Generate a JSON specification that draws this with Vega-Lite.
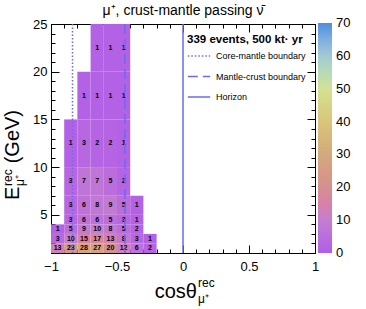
{
  "$schema": "https://vega.github.io/schema/vega-lite/v6.json",
  "width": 264,
  "height": 229,
  "autosize": {"type": "none"},
  "padding": {"left": 51, "top": 24, "right": 51, "bottom": 56},
  "background": "white",
  "config": {
    "font": "Liberation Sans",
    "view": {"stroke": "black", "strokeWidth": 1},
    "axis": {"domainColor": "black", "tickColor": "black", "labelColor": "black", "labelFont": "Liberation Sans", "grid": false, "domainWidth": 1, "tickWidth": 1}
  },
  "title": {"text": "μ⁺, crust-mantle passing ν̄", "fontSize": 14, "fontWeight": "normal", "font": "Liberation Sans", "color": "black", "anchor": "middle", "frame": "group", "offset": 0},
  "datasets": {
    "cells": [
      {"xlo": -1.0, "xhi": -0.9, "xc": -0.95, "elo": 1, "ehi": 2, "ec": 1.5, "n": 13},
      {"xlo": -0.9, "xhi": -0.8, "xc": -0.85, "elo": 1, "ehi": 2, "ec": 1.5, "n": 23},
      {"xlo": -0.8, "xhi": -0.7, "xc": -0.75, "elo": 1, "ehi": 2, "ec": 1.5, "n": 28},
      {"xlo": -0.7, "xhi": -0.6, "xc": -0.65, "elo": 1, "ehi": 2, "ec": 1.5, "n": 27},
      {"xlo": -0.6, "xhi": -0.5, "xc": -0.55, "elo": 1, "ehi": 2, "ec": 1.5, "n": 20},
      {"xlo": -0.5, "xhi": -0.4, "xc": -0.45, "elo": 1, "ehi": 2, "ec": 1.5, "n": 12},
      {"xlo": -0.4, "xhi": -0.3, "xc": -0.35, "elo": 1, "ehi": 2, "ec": 1.5, "n": 6},
      {"xlo": -0.3, "xhi": -0.2, "xc": -0.25, "elo": 1, "ehi": 2, "ec": 1.5, "n": 2},
      {"xlo": -1.0, "xhi": -0.9, "xc": -0.95, "elo": 2, "ehi": 3, "ec": 2.5, "n": 3},
      {"xlo": -0.9, "xhi": -0.8, "xc": -0.85, "elo": 2, "ehi": 3, "ec": 2.5, "n": 10},
      {"xlo": -0.8, "xhi": -0.7, "xc": -0.75, "elo": 2, "ehi": 3, "ec": 2.5, "n": 15},
      {"xlo": -0.7, "xhi": -0.6, "xc": -0.65, "elo": 2, "ehi": 3, "ec": 2.5, "n": 17},
      {"xlo": -0.6, "xhi": -0.5, "xc": -0.55, "elo": 2, "ehi": 3, "ec": 2.5, "n": 13},
      {"xlo": -0.5, "xhi": -0.4, "xc": -0.45, "elo": 2, "ehi": 3, "ec": 2.5, "n": 8},
      {"xlo": -0.4, "xhi": -0.3, "xc": -0.35, "elo": 2, "ehi": 3, "ec": 2.5, "n": 3},
      {"xlo": -0.3, "xhi": -0.2, "xc": -0.25, "elo": 2, "ehi": 3, "ec": 2.5, "n": 1},
      {"xlo": -1.0, "xhi": -0.9, "xc": -0.95, "elo": 3, "ehi": 4, "ec": 3.5, "n": 1},
      {"xlo": -0.9, "xhi": -0.8, "xc": -0.85, "elo": 3, "ehi": 4, "ec": 3.5, "n": 5},
      {"xlo": -0.8, "xhi": -0.7, "xc": -0.75, "elo": 3, "ehi": 4, "ec": 3.5, "n": 9},
      {"xlo": -0.7, "xhi": -0.6, "xc": -0.65, "elo": 3, "ehi": 4, "ec": 3.5, "n": 10},
      {"xlo": -0.6, "xhi": -0.5, "xc": -0.55, "elo": 3, "ehi": 4, "ec": 3.5, "n": 8},
      {"xlo": -0.5, "xhi": -0.4, "xc": -0.45, "elo": 3, "ehi": 4, "ec": 3.5, "n": 5},
      {"xlo": -0.4, "xhi": -0.3, "xc": -0.35, "elo": 3, "ehi": 4, "ec": 3.5, "n": 2},
      {"xlo": -0.9, "xhi": -0.8, "xc": -0.85, "elo": 4, "ehi": 5, "ec": 4.5, "n": 3},
      {"xlo": -0.8, "xhi": -0.7, "xc": -0.75, "elo": 4, "ehi": 5, "ec": 4.5, "n": 6},
      {"xlo": -0.7, "xhi": -0.6, "xc": -0.65, "elo": 4, "ehi": 5, "ec": 4.5, "n": 6},
      {"xlo": -0.6, "xhi": -0.5, "xc": -0.55, "elo": 4, "ehi": 5, "ec": 4.5, "n": 5},
      {"xlo": -0.5, "xhi": -0.4, "xc": -0.45, "elo": 4, "ehi": 5, "ec": 4.5, "n": 3},
      {"xlo": -0.4, "xhi": -0.3, "xc": -0.35, "elo": 4, "ehi": 5, "ec": 4.5, "n": 1},
      {"xlo": -0.9, "xhi": -0.8, "xc": -0.85, "elo": 5, "ehi": 7, "ec": 6, "n": 3},
      {"xlo": -0.8, "xhi": -0.7, "xc": -0.75, "elo": 5, "ehi": 7, "ec": 6, "n": 6},
      {"xlo": -0.7, "xhi": -0.6, "xc": -0.65, "elo": 5, "ehi": 7, "ec": 6, "n": 8},
      {"xlo": -0.6, "xhi": -0.5, "xc": -0.55, "elo": 5, "ehi": 7, "ec": 6, "n": 9},
      {"xlo": -0.5, "xhi": -0.4, "xc": -0.45, "elo": 5, "ehi": 7, "ec": 6, "n": 5},
      {"xlo": -0.4, "xhi": -0.3, "xc": -0.35, "elo": 5, "ehi": 7, "ec": 6, "n": 1},
      {"xlo": -0.9, "xhi": -0.8, "xc": -0.85, "elo": 7, "ehi": 10, "ec": 8.5, "n": 3},
      {"xlo": -0.8, "xhi": -0.7, "xc": -0.75, "elo": 7, "ehi": 10, "ec": 8.5, "n": 7},
      {"xlo": -0.7, "xhi": -0.6, "xc": -0.65, "elo": 7, "ehi": 10, "ec": 8.5, "n": 7},
      {"xlo": -0.6, "xhi": -0.5, "xc": -0.55, "elo": 7, "ehi": 10, "ec": 8.5, "n": 5},
      {"xlo": -0.5, "xhi": -0.4, "xc": -0.45, "elo": 7, "ehi": 10, "ec": 8.5, "n": 2},
      {"xlo": -0.9, "xhi": -0.8, "xc": -0.85, "elo": 10, "ehi": 15, "ec": 12.5, "n": 1},
      {"xlo": -0.8, "xhi": -0.7, "xc": -0.75, "elo": 10, "ehi": 15, "ec": 12.5, "n": 3},
      {"xlo": -0.7, "xhi": -0.6, "xc": -0.65, "elo": 10, "ehi": 15, "ec": 12.5, "n": 2},
      {"xlo": -0.6, "xhi": -0.5, "xc": -0.55, "elo": 10, "ehi": 15, "ec": 12.5, "n": 2},
      {"xlo": -0.5, "xhi": -0.4, "xc": -0.45, "elo": 10, "ehi": 15, "ec": 12.5, "n": 1},
      {"xlo": -0.8, "xhi": -0.7, "xc": -0.75, "elo": 15, "ehi": 20, "ec": 17.5, "n": 1},
      {"xlo": -0.7, "xhi": -0.6, "xc": -0.65, "elo": 15, "ehi": 20, "ec": 17.5, "n": 1},
      {"xlo": -0.6, "xhi": -0.5, "xc": -0.55, "elo": 15, "ehi": 20, "ec": 17.5, "n": 1},
      {"xlo": -0.5, "xhi": -0.4, "xc": -0.45, "elo": 15, "ehi": 20, "ec": 17.5, "n": 1},
      {"xlo": -0.7, "xhi": -0.6, "xc": -0.65, "elo": 20, "ehi": 25, "ec": 22.5, "n": 1},
      {"xlo": -0.6, "xhi": -0.5, "xc": -0.55, "elo": 20, "ehi": 25, "ec": 22.5, "n": 1},
      {"xlo": -0.5, "xhi": -0.4, "xc": -0.45, "elo": 20, "ehi": 25, "ec": 22.5, "n": 1}
    ],
    "bounds": [
      {"name": "Core-mantle boundary", "cos": -0.837},
      {"name": "Mantle-crust boundary", "cos": -0.44},
      {"name": "Horizon", "cos": 0}
    ]
  },
  "layer": [
    {
      "data": {"name": "cells"},
      "mark": {"type": "rect", "strokeWidth": 0},
      "encoding": {
        "x": {"field": "xlo", "type": "quantitative", "scale": {"domain": [-1, 1], "nice": false, "zero": false},
          "axis": {"orient": "bottom", "title": null, "values": [-1, -0.9, -0.8, -0.7, -0.6, -0.5, -0.4, -0.3, -0.2, -0.1, 0, 0.1, 0.2, 0.3, 0.4, 0.5, 0.6, 0.7, 0.8, 0.9, 1], "format": "~g",
            "labelExpr": "abs(datum.value*2-round(datum.value*2))<0.001 ? datum.label : ''",
            "tickSize": {"condition": {"test": "abs(datum.value*2-round(datum.value*2))<0.001", "value": -8}, "value": -4},
            "labelFontSize": 13, "labelPadding": 15, "labelOverlap": false, "labelFlush": false, "labelBound": false}},
        "x2": {"field": "xhi"},
        "y": {"field": "elo", "type": "quantitative", "scale": {"domain": [1, 25], "nice": false, "zero": false},
          "axis": {"orient": "left", "title": null, "values": [1, 2, 3, 4, 5, 6, 7, 8, 9, 10, 11, 12, 13, 14, 15, 16, 17, 18, 19, 20, 21, 22, 23, 24, 25], "format": "~g",
            "labelExpr": "datum.value % 5 == 0 ? datum.label : ''",
            "tickSize": {"condition": {"test": "datum.value % 5 == 0", "value": -8}, "value": -4},
            "labelFontSize": 13, "labelPadding": 12, "labelOverlap": false, "labelFlush": false, "labelBound": false}},
        "y2": {"field": "ehi"},
        "color": {"field": "n", "type": "quantitative",
          "scale": {"domain": [0, 10, 20, 30, 40, 50, 55, 60, 65, 70], "range": ["#b05ee8", "#c27fd0", "#d3908f", "#d2aa7c", "#d9c679", "#d3e293", "#b5dbb6", "#a2cad2", "#7dafe0", "#4f8fdc"]},
          "legend": {"orient": "none", "legendX": 267, "legendY": -1, "direction": "vertical", "gradientLength": 230, "gradientThickness": 14, "title": null, "values": [0, 10, 20, 30, 40, 50, 60, 70], "labelFontSize": 13, "labelFont": "Liberation Sans", "labelColor": "black", "labelOffset": 4, "gradientStrokeWidth": 0, "labelBaseline": "middle",
            "encode": {"labels": {"update": {"baseline": {"value": "middle"}}}}}}
      }
    },
    {
      "data": {"name": "cells"},
      "mark": {"type": "text", "fontSize": 7, "fontWeight": "bold", "color": "black", "align": "center", "baseline": "middle", "font": "Liberation Sans"},
      "encoding": {
        "x": {"field": "xc", "type": "quantitative", "scale": {"domain": [-1, 1], "nice": false, "zero": false},
          "axis": {"orient": "top", "title": null, "labels": false, "values": [-1, -0.9, -0.8, -0.7, -0.6, -0.5, -0.4, -0.3, -0.2, -0.1, 0, 0.1, 0.2, 0.3, 0.4, 0.5, 0.6, 0.7, 0.8, 0.9, 1],
            "tickSize": {"condition": {"test": "abs(datum.value*2-round(datum.value*2))<0.001", "value": -8}, "value": -4}}},
        "y": {"field": "ec", "type": "quantitative", "scale": {"domain": [1, 25], "nice": false, "zero": false},
          "axis": {"orient": "right", "title": null, "labels": false, "values": [1, 2, 3, 4, 5, 6, 7, 8, 9, 10, 11, 12, 13, 14, 15, 16, 17, 18, 19, 20, 21, 22, 23, 24, 25],
            "tickSize": {"condition": {"test": "datum.value % 5 == 0", "value": -8}, "value": -4}}},
        "text": {"field": "n", "type": "quantitative", "format": "d"}
      }
    },
    {
      "data": {"name": "bounds"},
      "mark": {"type": "rule", "color": "#6b6bec", "strokeWidth": 1.5},
      "encoding": {
        "x": {"field": "cos", "type": "quantitative", "scale": {"domain": [-1, 1], "nice": false, "zero": false}, "axis": null},
        "strokeDash": {"field": "name", "type": "nominal",
          "scale": {"domain": ["Core-mantle boundary", "Mantle-crust boundary", "Horizon"], "range": [[1.5, 2], [10, 5], [1, 0]]},
          "legend": {"orient": "none", "legendX": 136, "legendY": 10, "title": "339 events, 500 kt· yr", "titleFontSize": 11.5, "titleFontWeight": "bold", "titleColor": "black", "titleFont": "Liberation Sans", "titlePadding": -1.5, "labelFontSize": 9, "labelFont": "Liberation Sans", "labelColor": "black", "symbolType": "stroke", "symbolSize": 500, "symbolStrokeWidth": 1.5, "symbolStrokeColor": "#6b6bec", "rowPadding": 3.5, "labelOffset": 5, "padding": 0}}
      }
    },
    {
      "data": {"values": [{}]},
      "mark": {"type": "text", "text": "cosθ", "fontSize": 20, "align": "right", "baseline": "alphabetic", "color": "black", "font": "Liberation Sans"},
      "encoding": {
        "x": {"datum": 0.106, "type": "quantitative", "scale": {"domain": [-1, 1], "nice": false, "zero": false}, "axis": null},
        "y": {"datum": -3.716, "type": "quantitative", "scale": {"domain": [1, 25], "nice": false, "zero": false}, "axis": null}
      }
    },
    {
      "data": {"values": [{}]},
      "mark": {"type": "text", "text": "rec", "fontSize": 12, "align": "left", "baseline": "alphabetic", "color": "black", "font": "Liberation Sans"},
      "encoding": {
        "x": {"datum": 0.114, "type": "quantitative", "scale": {"domain": [-1, 1], "nice": false, "zero": false}, "axis": null},
        "y": {"datum": -2.563, "type": "quantitative", "scale": {"domain": [1, 25], "nice": false, "zero": false}, "axis": null}
      }
    },
    {
      "data": {"values": [{}]},
      "mark": {"type": "text", "text": "μ⁺", "fontSize": 12, "align": "left", "baseline": "alphabetic", "color": "black", "font": "Liberation Sans"},
      "encoding": {
        "x": {"datum": 0.114, "type": "quantitative", "scale": {"domain": [-1, 1], "nice": false, "zero": false}, "axis": null},
        "y": {"datum": -4.24, "type": "quantitative", "scale": {"domain": [1, 25], "nice": false, "zero": false}, "axis": null}
      }
    },
    {
      "data": {"values": [{}]},
      "mark": {"type": "text", "text": "E", "fontSize": 20, "align": "left", "baseline": "alphabetic", "angle": -90, "color": "black", "font": "Liberation Sans"},
      "encoding": {
        "x": {"datum": -1.239, "type": "quantitative", "scale": {"domain": [-1, 1], "nice": false, "zero": false}, "axis": null},
        "y": {"datum": 6.555, "type": "quantitative", "scale": {"domain": [1, 25], "nice": false, "zero": false}, "axis": null}
      }
    },
    {
      "data": {"values": [{}]},
      "mark": {"type": "text", "text": "rec", "fontSize": 12, "align": "left", "baseline": "alphabetic", "angle": -90, "color": "black", "font": "Liberation Sans"},
      "encoding": {
        "x": {"datum": -1.299, "type": "quantitative", "scale": {"domain": [-1, 1], "nice": false, "zero": false}, "axis": null},
        "y": {"datum": 8.022, "type": "quantitative", "scale": {"domain": [1, 25], "nice": false, "zero": false}, "axis": null}
      }
    },
    {
      "data": {"values": [{}]},
      "mark": {"type": "text", "text": "μ⁺", "fontSize": 12, "align": "left", "baseline": "alphabetic", "angle": -90, "color": "black", "font": "Liberation Sans"},
      "encoding": {
        "x": {"datum": -1.208, "type": "quantitative", "scale": {"domain": [-1, 1], "nice": false, "zero": false}, "axis": null},
        "y": {"datum": 8.022, "type": "quantitative", "scale": {"domain": [1, 25], "nice": false, "zero": false}, "axis": null}
      }
    },
    {
      "data": {"values": [{}]},
      "mark": {"type": "text", "text": "(GeV)", "fontSize": 20, "align": "left", "baseline": "alphabetic", "angle": -90, "color": "black", "font": "Liberation Sans"},
      "encoding": {
        "x": {"datum": -1.239, "type": "quantitative", "scale": {"domain": [-1, 1], "nice": false, "zero": false}, "axis": null},
        "y": {"datum": 10.4, "type": "quantitative", "scale": {"domain": [1, 25], "nice": false, "zero": false}, "axis": null}
      }
    }
  ],
  "resolve": {"axis": {"x": "independent", "y": "independent"}}
}
